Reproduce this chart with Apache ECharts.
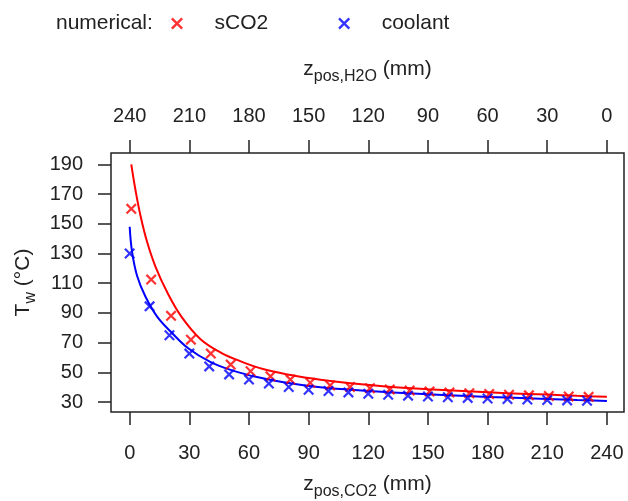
<!DOCTYPE html>
<html>
<head>
<meta charset="utf-8">
<script src="https://cdn.jsdelivr.net/npm/echarts@6/dist/echarts.min.js"></script>
<style>
  html, body { margin: 0; padding: 0; background: #fff; }
  #chart { width: 628px; height: 501px; }
</style>
</head>
<body>
<div id="chart"></div>
<script>
// Wall temperature along the channel: numerical points and analytical curves
const xTicks = [0, 30, 60, 90, 120, 150, 180, 210, 240];
const yTicks = [30, 50, 70, 90, 110, 130, 150, 170, 190];

// numerical results, sCO2 side (z in mm, T in degC)
const sco2NumZ = [0.8, 10.8, 20.8, 30.8, 40.8, 50.8, 60.8, 70.8, 80.8, 90.8, 100.8, 110.8,
                  120.8, 130.8, 140.8, 150.8, 160.8, 170.8, 180.8, 190.8, 200.8, 210.8, 220.8, 230.8];
const sco2NumT = [160, 112.4, 88, 72, 62.6, 55.2, 50.7, 47.3, 45.1, 43.0, 41.2, 40.2,
                  39.3, 38.5, 37.8, 37.1, 36.5, 35.9, 35.4, 34.9, 34.5, 34.1, 33.8, 33.5];

// numerical results, coolant side
const coolNumZ = [0, 10, 20, 30, 40, 50, 60, 70, 80, 90, 100, 110,
                  120, 130, 140, 150, 160, 170, 180, 190, 200, 210, 220, 230];
const coolNumT = [130, 94.4, 74.9, 62.6, 54.0, 48.6, 45.1, 42.4, 40.1, 38.3, 37.4, 36.5,
                  35.6, 34.9, 34.3, 33.7, 33.2, 32.8, 32.4, 32.0, 31.7, 31.4, 31.1, 30.9];

// analytical curves
const sco2CurveZ = [0.8, 3, 5.5, 8.7, 13, 19, 26, 35.5, 45.6, 55.6, 67, 81, 96, 111,
                    130, 150, 170, 190, 210, 225, 240];
const sco2CurveT = [190, 172, 155, 138, 121, 103.5, 87.5, 72.5, 63.5, 57.5, 52.2, 48.2, 45.0, 42.6,
                    40.3, 38.6, 37.2, 36.0, 35.0, 34.2, 33.5];
const coolCurveZ = [0, 1.2, 3.7, 7.9, 13.8, 21.3, 29.6, 40.5, 52.3, 64, 77.4, 92.5, 111,
                    130, 150, 170, 190, 210, 225, 240];
const coolCurveT = [148, 131, 115, 101, 87.5, 76.5, 66, 57, 51, 46.8, 43.3, 40.5, 38.3,
                    36.6, 35.2, 34.0, 33.0, 32.1, 31.4, 30.7];

const zip = (xs, ys) => xs.map((x, i) => [x, ys[i]]);

const X_MIN = -9.4, X_MAX = 248.6;
const Y_MIN = 23.3, Y_MAX = 197.6;
const FONT = 'Liberation Sans, Arial, sans-serif';
const INK = '#222';
const RED = '#ff0000';
const BLUE = '#0000ff';

// filled "x" glyph used for points and legend
const CROSS = 'path://M14,0L100,86L86,100L0,14ZM86,0L100,14L14,100L0,86Z';

const tickStyle = { show: true, inside: false, length: 13, lineStyle: { color: INK, width: 1.5 } };
const labelStyle = { color: INK, fontFamily: FONT, fontSize: 20 };
const nameRich = {
  a: { fontFamily: FONT, fontSize: 21, color: INK, lineHeight: 32 },
  s: { fontFamily: FONT, fontSize: 16, color: INK, lineHeight: 16, verticalAlign: 'bottom' }
};
const hiddenLine = { show: false, onZero: false };

const chart = echarts.init(document.getElementById('chart'), null, { renderer: 'canvas' });

chart.setOption({
  animation: false,
  backgroundColor: '#fff',
  title: {
    text: 'numerical:',
    left: 51, top: 8,
    textStyle: { fontFamily: FONT, fontSize: 21, fontWeight: 'normal', color: INK }
  },
  legend: {
    left: 166, top: 8,
    itemWidth: 13, itemHeight: 12,
    itemGap: 70,
    data: [{ name: 'sCO2', icon: CROSS }, { name: 'coolant', icon: CROSS }],
    textStyle: { fontFamily: FONT, fontSize: 21, color: INK, padding: [0, 0, 0, 26] }
  },
  grid: {
    left: 111, top: 153, right: 4, bottom: 89,
    outerBoundsMode: 'none', containLabel: false,
    show: true, borderColor: INK, borderWidth: 1.5, backgroundColor: 'transparent'
  },
  xAxis: [
    {
      type: 'value', position: 'bottom', min: X_MIN, max: X_MAX,
      axisLine: hiddenLine, splitLine: { show: false },
      axisTick: Object.assign({ customValues: xTicks }, tickStyle),
      axisLabel: Object.assign({ customValues: xTicks, margin: 31 }, labelStyle),
      name: '{a|z}{s|pos,CO2}{a| (mm)}', nameLocation: 'middle', nameGap: 56,
      nameTextStyle: { rich: nameRich }
    },
    {
      type: 'value', position: 'top', inverse: true,
      min: 240 - X_MAX, max: 240 - X_MIN,
      axisLine: hiddenLine, splitLine: { show: false },
      axisTick: Object.assign({ customValues: xTicks }, tickStyle),
      axisLabel: Object.assign({ customValues: xTicks, margin: 27 }, labelStyle),
      name: '{a|z}{s|pos,H2O}{a| (mm)}', nameLocation: 'middle', nameGap: 68,
      nameTextStyle: { rich: nameRich }
    }
  ],
  yAxis: {
    type: 'value', min: Y_MIN, max: Y_MAX,
    axisLine: hiddenLine, splitLine: { show: false },
    axisTick: Object.assign({ customValues: yTicks }, tickStyle),
    axisLabel: Object.assign({ customValues: yTicks, margin: 28 }, labelStyle),
    name: '{a|T}{s|w}{a| (°C)}', nameLocation: 'middle', nameGap: 63,
    nameTextStyle: { rich: nameRich }
  },
  series: [
    {
      name: 'sCO2', type: 'scatter', xAxisIndex: 0,
      symbol: CROSS, symbolSize: 11,
      itemStyle: { color: RED },
      data: zip(sco2NumZ, sco2NumT), z: 3
    },
    {
      name: 'coolant', type: 'scatter', xAxisIndex: 0,
      symbol: CROSS, symbolSize: 11,
      itemStyle: { color: BLUE },
      data: zip(coolNumZ, coolNumT), z: 3
    },
    {
      name: 'sCO2 analytical', type: 'line', xAxisIndex: 0,
      showSymbol: false, smooth: 0.4,
      lineStyle: { color: RED, width: 2 },
      data: zip(sco2CurveZ, sco2CurveT), z: 2
    },
    {
      name: 'coolant analytical', type: 'line', xAxisIndex: 0,
      showSymbol: false, smooth: 0.4,
      lineStyle: { color: BLUE, width: 2 },
      data: zip(coolCurveZ, coolCurveT), z: 2
    }
  ]
});
</script>
</body>
</html>
